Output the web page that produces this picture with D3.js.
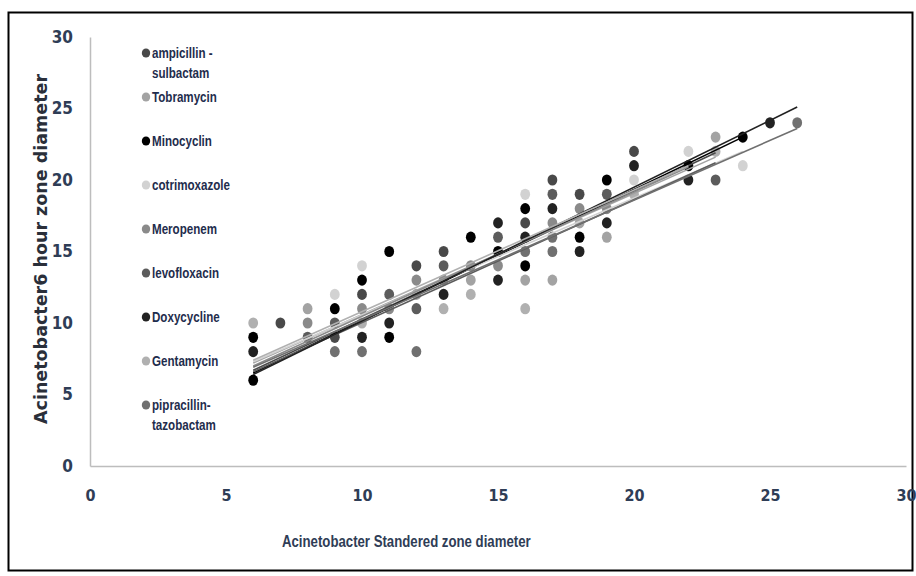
<!DOCTYPE html>
<html>
<head>
<meta charset="utf-8">
<script src="https://cdnjs.cloudflare.com/ajax/libs/d3/7.8.5/d3.min.js"></script>
<style>
  body { margin: 0; background: #fff; }
  svg { display: block; }
</style>
</head>
<body>
<div id="chart"></div>
<script>
// Scatter of 6-hour vs standard zone diameters, one series per antibiotic, with linear trendlines

const seriesNames = [
  ["ampicillin -", "sulbactam"], ["Tobramycin"], ["Minocyclin"], ["cotrimoxazole"],
  ["Meropenem"], ["levofloxacin"], ["Doxycycline"], ["Gentamycin"], ["pipracillin-", "tazobactam"]
];
const seriesColors = ["#4a4a4a", "#a3a3a3", "#000000", "#d2d2d2", "#8a8a8a", "#5c5c5c", "#222222", "#b0b0b0", "#707070"];

// [standard diameter, 6 hour diameter]
const ampicillinPts = [[7,10],[9,9],[10,12],[12,14],[13,15],[16,17],[17,20],[18,19],[20,22]];
const tobramycinPts = [[8,11],[12,12],[14,13],[16,13],[17,13],[18,17],[19,16],[23,23]];
const minocyclinPts = [[6,9],[6,6],[9,11],[10,13],[11,15],[11,9],[14,16],[15,15],[16,18],[16,14],[18,16],[19,20],[22,21],[24,23]];
const cotrimoxazolePts = [[9,12],[10,14],[16,19],[20,20],[22,22],[24,21]];
const meropenemPts = [[8,10],[10,11],[11,11],[12,13],[13,13],[14,14],[15,14],[17,17],[18,18],[19,18]];
const levofloxacinPts = [[8,9],[9,10],[11,12],[12,11],[13,14],[15,16],[17,19],[19,19],[23,20]];
const doxycyclinePts = [[6,8],[10,9],[11,10],[13,12],[15,17],[15,13],[16,16],[17,18],[18,15],[19,17],[20,21],[22,20],[25,24]];
const gentamycinPts = [[6,10],[10,10],[13,11],[14,12],[16,11],[20,19],[23,22]];
const pipracillinPts = [[9,8],[10,8],[12,8],[16,15],[17,16],[17,15],[26,24]];

const seriesPoints = [ampicillinPts, tobramycinPts, minocyclinPts, cotrimoxazolePts, meropenemPts,
  levofloxacinPts, doxycyclinePts, gentamycinPts, pipracillinPts];

// trendline ends
const trendX0 = [6, 6, 6, 6, 6, 6, 6, 6, 6];
const trendY0 = [6.7, 7.2, 6.5, 7.3, 7.0, 6.6, 6.4, 7.4, 6.9];
const trendX1 = [23, 23, 24, 24, 22, 23, 26, 22, 26];
const trendY1 = [21.9, 21.6, 23.0, 22.0, 20.9, 21.2, 25.1, 21.0, 23.6];

const xTicks = [0, 5, 10, 15, 20, 25, 30];
const yTicks = [0, 5, 10, 15, 20, 25, 30];

const width = 916, height = 576;
const narrow = "'Liberation Sans Narrow', 'DejaVu Sans Condensed', 'Open Sans', sans-serif";
const textColor = "#2f3d56";

const svg = d3.select("#chart").append("svg")
  .attr("width", width)
  .attr("height", height);

svg.append("rect")
  .attr("x", 8.5).attr("y", 12.5)
  .attr("width", 904).attr("height", 558)
  .attr("fill", "#fff")
  .attr("stroke", "#000")
  .attr("stroke-width", 2);

const x = d3.scaleLinear().domain([0, 30]).range([90, 906]);
const y = d3.scaleLinear().domain([0, 30]).range([466, 37]);

// axes: plain grey lines, labels only
const xAxis = svg.append("g")
  .attr("transform", `translate(0,${y(0)})`)
  .call(d3.axisBottom(x).tickValues(xTicks).tickSize(0).tickPadding(24).tickFormat(d3.format("d")));
xAxis.select(".domain").attr("stroke", "#bdbdbd").attr("stroke-width", 1.5);
xAxis.selectAll("text")
  .style("font-family", narrow)
  .style("font-size", "16px")
  .style("font-weight", "bold")
  .style("fill", textColor);

const yAxis = svg.append("g")
  .attr("transform", `translate(${x(0)},0)`)
  .call(d3.axisLeft(y).tickValues(yTicks).tickSize(0).tickPadding(17).tickFormat(d3.format("d")));
yAxis.select(".domain").attr("stroke", "#bdbdbd").attr("stroke-width", 1.5);
yAxis.selectAll("text")
  .style("font-family", narrow)
  .style("font-size", "17px")
  .style("font-weight", "bold")
  .style("fill", textColor);

// axis titles
svg.append("text")
  .attr("transform", "translate(47,249) rotate(-90)")
  .attr("text-anchor", "middle")
  .style("font-family", "'DejaVu Sans', sans-serif")
  .style("font-size", "17.5px")
  .style("font-weight", "bold")
  .style("fill", "#2a2f3a")
  .text("Acinetobacter6  hour zone diameter");

svg.append("text")
  .attr("transform", "translate(282,547) scale(0.8,1)")
  .style("font-family", "'Liberation Sans', Arial, sans-serif")
  .style("font-size", "16.5px")
  .style("font-weight", "bold")
  .style("fill", textColor)
  .text("Acinetobacter Standered zone diameter");

// points
const soft = svg.append("defs").append("filter").attr("id", "soft");
soft.append("feGaussianBlur").attr("stdDeviation", 0.5);

const plot = svg.append("g");
seriesPoints.forEach((pts, i) => {
  plot.append("g")
    .selectAll("ellipse")
    .data(pts)
    .join("ellipse")
    .attr("cx", d => x(d[0]))
    .attr("cy", d => y(d[1]))
    .attr("rx", 4.9)
    .attr("ry", 5.6)
    .attr("fill", seriesColors[i])
    .attr("filter", "url(#soft)");
});

// trendlines on top of the points
seriesPoints.forEach((pts, i) => {
  plot.append("line")
    .attr("x1", x(trendX0[i])).attr("y1", y(trendY0[i]))
    .attr("x2", x(trendX1[i])).attr("y2", y(trendY1[i]))
    .attr("stroke", seriesColors[i])
    .attr("stroke-width", 1.6);
});

// legend - tall narrow text, squeezed horizontally
const legend = svg.append("g");
seriesNames.forEach((lines, i) => {
  const ly = 53 + i * 44;
  legend.append("ellipse")
    .attr("cx", 146).attr("cy", ly)
    .attr("rx", 4.2).attr("ry", 4.6)
    .attr("fill", seriesColors[i])
    .attr("filter", "url(#soft)");
  const t = legend.append("text")
    .attr("transform", `translate(152,${ly + 5}) scale(0.8,1)`)
    .style("font-family", "'Liberation Sans', Arial, sans-serif")
    .style("font-size", "14.5px")
    .style("font-weight", "bold")
    .style("fill", "#1f2d4d");
  lines.forEach((ln, k) => {
    t.append("tspan").attr("x", 0).attr("dy", k === 0 ? 0 : 20).text(ln);
  });
});
</script>
</body>
</html>
